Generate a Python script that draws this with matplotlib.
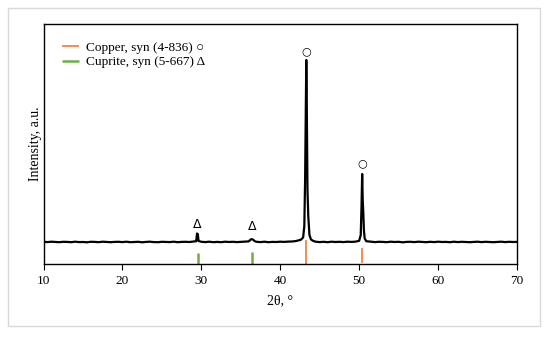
import matplotlib.pyplot as plt
from matplotlib.patches import Rectangle

# XRD scan (intensity in arbitrary counts, baseline ~0)
scan_2theta = [
    10.0, 10.5, 11.0, 11.5, 12.0, 12.5, 13.0, 13.5, 14.0, 14.5, 15.0, 15.5,
    16.0, 16.5, 17.0, 17.5, 18.0, 18.5, 19.0, 19.5, 20.0, 20.5, 21.0, 21.5,
    22.0, 22.5, 23.0, 23.5, 24.0, 24.5, 25.0, 25.5, 26.0, 26.5, 27.0, 27.5,
    28.0, 28.5, 29.0, 29.35, 29.45, 29.55, 29.65, 30.0, 30.5, 31.0, 31.5,
    32.0, 32.5, 33.0, 33.5, 34.0, 34.5, 35.0, 35.5, 36.0, 36.3, 36.5, 36.8,
    37.0, 37.5, 38.0, 38.5, 39.0, 39.5, 40.0, 40.5, 41.0, 41.5, 42.0, 42.6,
    42.9, 43.05, 43.15, 43.25, 43.3, 43.35, 43.45, 43.55, 43.7, 43.9, 44.2,
    44.5, 45.0, 45.5, 46.0, 46.5, 47.0, 47.5, 48.0, 48.5, 49.0, 49.5, 50.0,
    50.2, 50.3, 50.38, 50.45, 50.52, 50.6, 50.7, 50.9, 51.5, 52.0, 52.5,
    53.0, 53.5, 54.0, 54.5, 55.0, 55.5, 56.0, 56.5, 57.0, 57.5, 58.0, 58.5,
    59.0, 59.5, 60.0, 60.5, 61.0, 61.5, 62.0, 62.5, 63.0, 63.5, 64.0, 64.5,
    65.0, 65.5, 66.0, 66.5, 67.0, 67.5, 68.0, 68.5, 69.0, 69.5, 70.0,
]
scan_counts = [
    2, -1, 3, 0, -2, 2, 1, -2, 3, -1, 0, -3,
    2, 1, -2, 3, 0, -2, 1, 2, -1, 3, -2, 0,
    2, -3, 1, 3, -1, -2, 2, 0, -1, 3, -2, 1,
    2, 0, 5, 8, 85, 80, 10, 2, -1, 3, -2,
    1, -2, 3, 0, 2, -1, 1, 3, 6, 28, 26, 7,
    2, -1, 3, -2, 1, 0, 3, 1, 4, 5, 10, 22,
    45, 160, 620, 1500, 1820, 1500, 520, 260, 70, 25, 10,
    3, -1, 2, -2, 3, 0, 2, -1, 3, 1, 3, 12,
    70, 360, 680, 420, 300, 120, 35, 8, 3, -1, 2,
    1, -2, 3, 0, 2, -3, 1, 2, -1, 3, 0, -2,
    2, -1, 3, 0, 1, -2, 3, -1, 2, 0, -2, 1,
    3, -1, 2, 0, -2, 1, 3, -1, 2, 0, 1,
]

# reference patterns (stick positions and stick extents)
copper_pos = [43.3, 50.4]
copper_lo = [-220, -210]
copper_hi = [20, -60]
cuprite_pos = [29.6, 36.4]
cuprite_lo = [-220, -220]
cuprite_hi = [-110, -100]

# symbols over the peaks
circle_pos = [(43.3, 1910), (50.4, 790)]
delta_pos = [(29.5, 175), (36.5, 150)]

serif = ["Liberation Serif", "DejaVu Serif"]
plt.rcParams["font.family"] = serif

fig = plt.figure(figsize=(5.5, 3.37), dpi=100)
fig.patches.append(Rectangle((8 / 550, 1 - 326 / 337), 532 / 550, 318 / 337,
                             transform=fig.transFigure, fill=False,
                             edgecolor="#d9d9d9", linewidth=1.0))

ax = fig.add_axes([43.5 / 550, 1 - 264 / 337, 473.5 / 550, 240 / 337])

ax.plot(scan_2theta, scan_counts, color="black", linewidth=1.6, zorder=3)

ax.vlines(copper_pos, copper_lo, copper_hi, color="#ED7D31", linewidth=1.2,
          label="Copper, syn (4-836) \u25cb")
ax.vlines(cuprite_pos, cuprite_lo, cuprite_hi, color="#70AD47", linewidth=1.8,
          label="Cuprite, syn (5-667) \u0394")

for x, y in circle_pos:
    ax.text(x, y, "\u25cb", ha="center", va="center", fontsize=8,
            family=["DejaVu Sans"])
for x, y in delta_pos:
    ax.text(x, y, "\u0394", ha="center", va="center", fontsize=9,
            family=["DejaVu Sans"])

ax.set_xlim(10, 70)
ax.set_ylim(-220, 2180)
ax.set_xticks([10, 20, 30, 40, 50, 60, 70])
ax.set_yticks([])
ax.tick_params(axis="x", direction="out", length=4, width=0.8,
               labelsize=9.5, pad=4)
for s in ax.spines.values():
    s.set_linewidth(1.0)

ax.set_xlabel("2\u03b8, \u00b0", fontsize=10, labelpad=5)
ax.set_ylabel("Intensity, a.u.", fontsize=10, labelpad=1)

leg = ax.legend(loc="upper left", bbox_to_anchor=(0.028, 0.95),
                borderaxespad=0, frameon=False,
                handlelength=1.3, handletextpad=0.55, labelspacing=0.2,
                prop={"family": serif + ["DejaVu Sans"], "size": 9.5})

fig.savefig("out.png", dpi=100)
